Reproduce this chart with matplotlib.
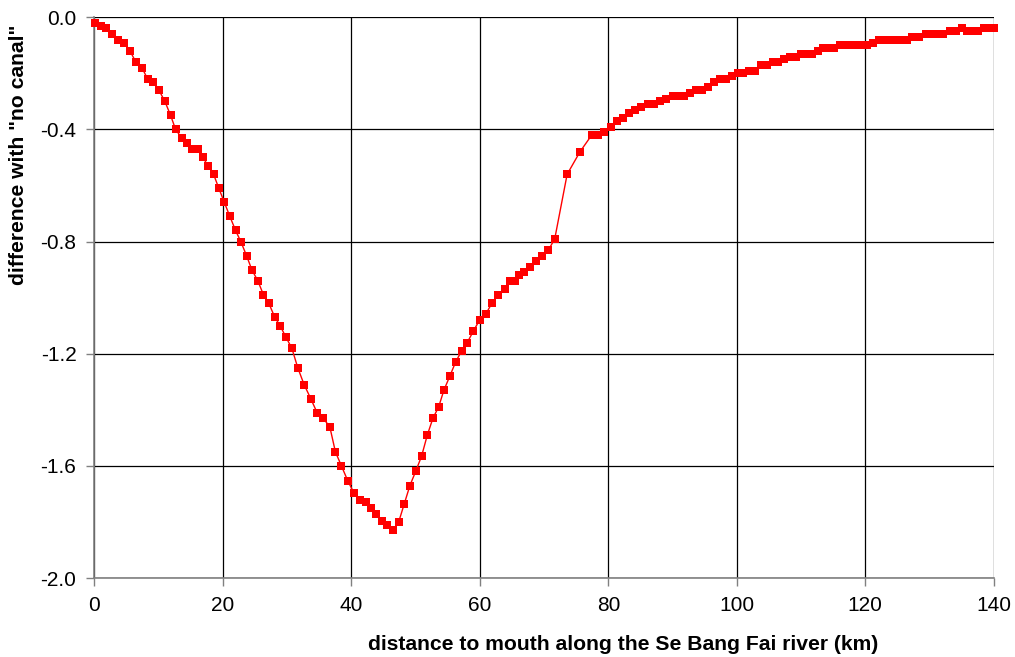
import matplotlib
matplotlib.use("Agg")
import matplotlib.pyplot as plt

distance_km = [
    0.08, 0.96, 1.84, 2.77, 3.70, 4.59, 5.52, 6.45, 7.39, 8.27,
    9.14, 10.03, 10.96, 11.85, 12.63, 13.56, 14.39, 15.21, 16.05, 16.87,
    17.70, 18.54, 19.36, 20.22, 21.07, 21.96, 22.78, 23.67, 24.49, 25.43,
    26.31, 27.14, 28.07, 28.90, 29.78, 30.72, 31.65, 32.63, 33.67, 34.65,
    35.58, 36.63, 37.51, 38.44, 39.47, 40.36, 41.34, 42.27, 43.11, 43.89,
    44.71, 45.60, 46.47, 47.36, 48.24, 49.11, 50.00, 50.93, 51.82, 52.69,
    53.58, 54.40, 55.32, 56.22, 57.15, 58.04, 58.97, 59.95, 60.89, 61.87,
    62.86, 63.84, 64.73, 65.51, 66.07, 66.84, 67.73, 68.77, 69.75, 70.68,
    71.66, 73.59, 75.58, 77.42, 78.46, 79.39, 80.37, 81.37, 82.24, 83.28,
    84.21, 85.15, 86.13, 87.12, 88.06, 89.04, 90.02, 90.90, 91.73, 92.72,
    93.66, 94.59, 95.52, 96.45, 97.39, 98.32, 99.19, 100.12, 100.96, 101.94,
    102.83, 103.76, 104.63, 105.57, 106.45, 107.39, 108.32, 109.18, 109.98, 110.86,
    111.70, 112.57, 113.50, 114.39, 115.16, 116.10, 116.98, 117.81, 118.69, 119.56,
    120.29, 121.23, 122.16, 123.09, 123.98, 124.85, 125.69, 126.56, 127.34, 128.38,
    129.42, 130.36, 131.23, 132.12, 133.16, 134.09, 135.02, 135.89, 136.67, 137.56,
    138.49, 139.27, 140.0,
]
difference = [
    -0.02, -0.03, -0.04, -0.06, -0.08, -0.09, -0.12, -0.16, -0.18, -0.22,
    -0.23, -0.26, -0.30, -0.35, -0.40, -0.43, -0.45, -0.47, -0.47, -0.50,
    -0.53, -0.56, -0.61, -0.66, -0.71, -0.76, -0.80, -0.85, -0.90, -0.94,
    -0.99, -1.02, -1.07, -1.10, -1.14, -1.18, -1.25, -1.31, -1.36, -1.41,
    -1.43, -1.46, -1.55, -1.60, -1.655, -1.695, -1.72, -1.73, -1.75, -1.77,
    -1.795, -1.81, -1.83, -1.80, -1.735, -1.67, -1.62, -1.565, -1.49, -1.43,
    -1.39, -1.33, -1.28, -1.23, -1.19, -1.16, -1.12, -1.08, -1.06, -1.02,
    -0.99, -0.97, -0.94, -0.94, -0.92, -0.91, -0.89, -0.87, -0.85, -0.83,
    -0.79, -0.56, -0.48, -0.42, -0.42, -0.41, -0.39, -0.37, -0.36, -0.34,
    -0.33, -0.32, -0.31, -0.31, -0.30, -0.29, -0.28, -0.28, -0.28, -0.27,
    -0.26, -0.26, -0.25, -0.23, -0.22, -0.22, -0.21, -0.20, -0.20, -0.19,
    -0.19, -0.17, -0.17, -0.16, -0.16, -0.15, -0.14, -0.14, -0.13, -0.13,
    -0.13, -0.12, -0.11, -0.11, -0.11, -0.10, -0.10, -0.10, -0.10, -0.10,
    -0.10, -0.09, -0.08, -0.08, -0.08, -0.08, -0.08, -0.08, -0.07, -0.07,
    -0.06, -0.06, -0.06, -0.06, -0.05, -0.05, -0.04, -0.05, -0.05, -0.05,
    -0.04, -0.04, -0.04,
]
x_ticks = [0, 20, 40, 60, 80, 100, 120, 140]
y_ticks = [0.0, -0.4, -0.8, -1.2, -1.6, -2.0]
y_tick_labels = ["0.0", "-0.4", "-0.8", "-1.2", "-1.6", "-2.0"]
x_label = "distance to mouth along the Se Bang Fai river (km)"
y_label = 'difference with "no canal"'

plt.rcParams['font.family'] = ['Liberation Sans', 'DejaVu Sans']

fig = plt.figure(figsize=(10.15, 6.57), dpi=100)
ax = fig.add_axes([0.0931, 0.1202, 0.979 - 0.0931, 0.9737 - 0.1202])

ax.plot(distance_km, difference, color='#ff0000', linewidth=1.0,
        marker='s', markersize=5.5, markeredgewidth=0, clip_on=False, zorder=3)

ax.set_xlim(0, 140)
ax.set_ylim(-2.0, 0.0)
ax.set_xticks(x_ticks)
ax.set_yticks(y_ticks)
ax.set_yticklabels(y_tick_labels)
ax.grid(True, color='black', linewidth=0.9)
ax.set_axisbelow(True)

for s in ['top', 'right']:
    ax.spines[s].set_visible(False)
for s in ['left', 'bottom']:
    ax.spines[s].set_color('#808080')
    ax.spines[s].set_linewidth(1.2)
ax.tick_params(axis='both', direction='out', length=6, width=1, color='#808080',
               labelsize=15, labelcolor='black', pad=7)

ax.set_xlabel(x_label, fontsize=15.2, fontweight='bold', va='center', ha='center')
ax.set_ylabel(y_label, fontsize=15.2, fontweight='bold', va='center', ha='center')
ax.xaxis.set_label_coords(0.5875, -0.1185)
ax.yaxis.set_label_coords(-0.0845, 0.755)

fig.savefig('out.png', dpi=100, facecolor='white')
